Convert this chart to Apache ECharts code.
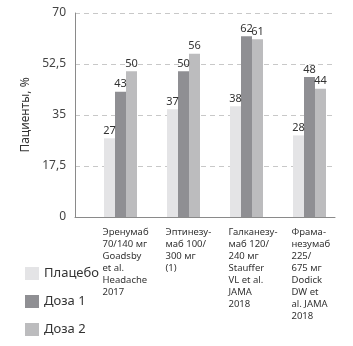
<!DOCTYPE html>
<html>
<head>
<meta charset="utf-8">
<script src="https://cdn.jsdelivr.net/npm/echarts@6/dist/echarts.min.js"></script>
<style>html,body{margin:0;padding:0;background:#fff}#c{width:353px;height:346px}</style>
</head>
<body>
<div id="c"></div>
<script>
const categories = [
  "Эренумаб\n70/140 мг\nGoadsby\net al.\nHeadache\n2017",
  "Эптинезу-\nмаб 100/\n300 мг\n(1)",
  "Галканезу-\nмаб 120/\n240 мг\nStauffer\nVL et al.\nJAMA\n2018",
  "Фрама-\nнезумаб\n225/\n675 мг\nDodick\nDW et\nal. JAMA\n2018"
];
const seriesNames = ["Плацебо", "Доза 1", "Доза 2"];
const placebo = [27, 37, 38, 28];
const dose1 = [43, 50, 62, 48];
const dose2 = [50, 56, 61, 44];
const yTicks = [0, 17.5, 35, 52.5, 70];

const colors = ["#e4e4e6", "#8f8f93", "#bcbcbe"];
const font = "'Noto Sans', 'Open Sans', sans-serif";
const chart = echarts.init(document.getElementById('c'));
const gTop = 13, gBottom = 346 - 217;
const noSplit = { show: false, lineStyle: { opacity: 0, width: 0, color: 'rgba(0,0,0,0)' } };
const mk = (name, data, i) => ({
  name, type: 'bar', data, xAxisIndex: 1, yAxisIndex: 1,
  barWidth: 11, barGap: '0%',
  itemStyle: { color: colors[i] },
  label: { show: true, position: 'top', distance: 2, fontSize: 11, color: '#333', fontFamily: font },
  animation: false
});
chart.setOption({
  animation: false,
  color: colors,
  legend: {
    orient: 'vertical', left: 20, top: 262,
    itemWidth: 14, itemHeight: 13, itemGap: 15,
    icon: 'rect',
    data: seriesNames,
    textStyle: { fontSize: 13, color: '#333', fontFamily: font }
  },
  grid: [
    { left: 75, right: 18, top: gTop, bottom: gBottom },
    { left: 89, width: 252, top: gTop, bottom: gBottom }
  ],
  xAxis: [
    { type: 'category', gridIndex: 0, data: [''], axisLine: { show: true, lineStyle: { color: '#8a8a8a' } },
      axisTick: { show: false }, axisLabel: { show: false }, splitLine: noSplit, splitArea: { show: false } },
    { type: 'category', gridIndex: 1, data: categories, axisLine: { show: false },
      axisTick: { show: false }, splitLine: noSplit, splitArea: { show: false },
      axisLabel: { show: true, interval: 0, align: 'center', margin: 9,
        formatter: v => v.split('\n').map(l => '{a|' + l + '}').join('\n'),
        rich: { a: { width: 36, align: 'left', fontSize: 9.5, lineHeight: 12, color: '#333', fontFamily: font } } } }
  ],
  yAxis: [
    { type: 'value', gridIndex: 0, min: 0, max: 70, interval: 17.5,
      name: 'Пациенты, %', nameLocation: 'middle', nameGap: 42, nameRotate: 90,
      nameTextStyle: { fontSize: 12, color: '#333', fontFamily: font },
      axisLine: { show: true, lineStyle: { color: '#8a8a8a' } },
      axisTick: { show: false },
      axisLabel: { fontSize: 12, color: '#444', margin: 9, fontFamily: font,
        formatter: v => yTicks.includes(v) ? String(v).replace('.', ',') : '' },
      splitLine: { show: true, lineStyle: { color: '#c8c8c8', type: [5, 4] } } },
    { type: 'value', gridIndex: 1, min: 0, max: 70, show: false, splitLine: noSplit }
  ],
  series: [mk(seriesNames[0], placebo, 0), mk(seriesNames[1], dose1, 1), mk(seriesNames[2], dose2, 2)]
});
</script>
</body>
</html>
